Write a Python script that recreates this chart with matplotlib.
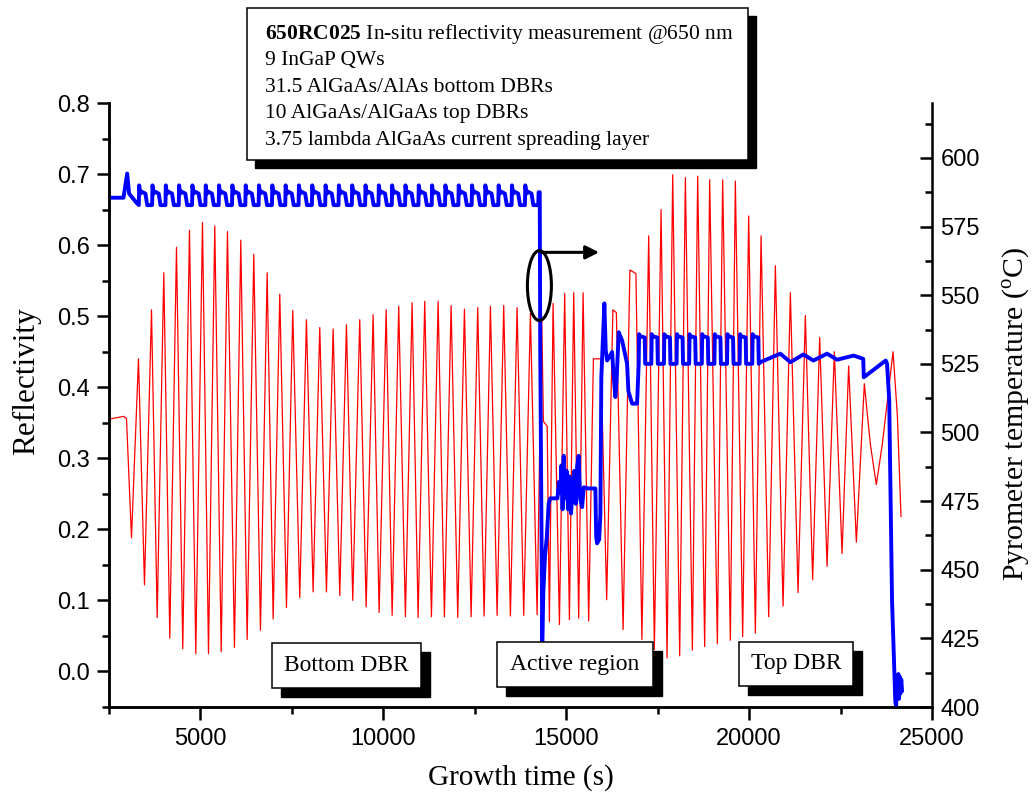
import matplotlib
matplotlib.use("Agg")
from matplotlib import pyplot as plt
from matplotlib.patches import Rectangle, Ellipse
from matplotlib.ticker import MultipleLocator

plt.rcParams["font.family"] = "Liberation Serif"
plt.rcParams["mathtext.fontset"] = "custom"
plt.rcParams["mathtext.rm"] = "Liberation Serif"
plt.rcParams["mathtext.bf"] = "Liberation Serif:bold"

# in-situ reflectivity at 650 nm, turning points of the trace
refl_t = [2500, 2700, 2900, 2978, 3115, 3306, 3470, 3662, 3817, 3998, 4162, 4345, 4517, 4700,
          4873, 5056, 5220, 5392, 5567, 5739, 5930, 6103, 6277, 6458, 6641, 6824, 6988, 7169,
          7352, 7524, 7715, 7898, 8081, 8262, 8445, 8628, 8809, 8992, 9164, 9355, 9530, 9721,
          9885, 10077, 10241, 10421, 10604, 10787, 10951, 11132, 11315, 11498, 11670, 11853,
          12034, 12217, 12400, 12580, 12755, 12928, 13111, 13291, 13474, 13657, 13838, 14021,
          14204, 14330, 14376, 14480, 14540, 14641, 14814, 14958, 15087, 15205, 15341, 15461,
          15614, 15743, 15948, 16106, 16276, 16371, 16555, 16741, 16905, 17069, 17255, 17410,
          17593, 17757, 17911, 18102, 18258, 18449, 18594, 18785, 18922, 19132, 19277, 19487,
          19624, 19824, 19988, 20171, 20327, 20535, 20718, 20928, 21128, 21338, 21538, 21737,
          21929, 22131, 22330, 22541, 22721, 22932, 23150, 23314, 23478, 23642, 23935, 24053,
          24153]
refl_r = [0.355, 0.357, 0.359, 0.356, 0.188, 0.440, 0.122, 0.509, 0.076, 0.561, 0.047, 0.597,
          0.032, 0.621, 0.025, 0.632, 0.025, 0.627, 0.028, 0.619, 0.034, 0.607, 0.045, 0.587,
          0.058, 0.561, 0.074, 0.531, 0.090, 0.508, 0.104, 0.495, 0.112, 0.484, 0.112, 0.482,
          0.107, 0.488, 0.100, 0.495, 0.091, 0.502, 0.083, 0.509, 0.079, 0.514, 0.077, 0.519,
          0.076, 0.521, 0.077, 0.521, 0.077, 0.515, 0.076, 0.510, 0.077, 0.512, 0.078, 0.514,
          0.079, 0.515, 0.078, 0.512, 0.079, 0.504, 0.080, 0.500, 0.352, 0.345, 0.070, 0.518,
          0.066, 0.532, 0.073, 0.533, 0.075, 0.533, 0.071, 0.440, 0.440, 0.101, 0.509, 0.505,
          0.059, 0.565, 0.560, 0.045, 0.613, 0.031, 0.650, 0.019, 0.699, 0.022, 0.695, 0.030,
          0.697, 0.035, 0.692, 0.039, 0.692, 0.044, 0.690, 0.049, 0.641, 0.054, 0.613, 0.077,
          0.571, 0.092, 0.533, 0.111, 0.501, 0.129, 0.470, 0.148, 0.450, 0.166, 0.430, 0.182,
          0.405, 0.320, 0.263, 0.320, 0.450, 0.360, 0.218]

# pyrometer temperature: bottom DBR (one step per AlGaAs/AlAs pair)
start_t = [2500, 2896, 2997, 3050, 3230]
start_T = [585.5, 585.5, 594.3, 587.0, 584.0]
bot_rise = [3315, 3679, 4043, 4407, 4771, 5135, 5499, 5863, 6227, 6591, 6955, 7319, 7683,
            8047, 8411, 8775, 9139, 9503, 9867, 10231, 10595, 10959, 11323, 11687, 12051,
            12415, 12779, 13143, 13507, 13871]
bot_high, bot_mid, bot_low = 590.0, 587.0, 582.8

# active region (QWs + current spreading layer)
act_t = [14235, 14245, 14276, 14290, 14320, 14345, 14375, 14420, 14470, 14520, 14560, 14760,
         14800, 14840, 14870, 14900, 14931, 14970, 15010, 15050, 15090, 15130, 15170, 15220,
         15260, 15300, 15341, 15380, 15434, 15480, 15606, 15797, 15820, 15844, 15900, 15934,
         15960, 16043, 16080, 16117, 16200, 16254, 16290, 16344, 16380, 16435, 16528, 16664,
         16700, 16801, 16937]
act_T = [582.8, 587.5, 587.5, 530.0, 470.0, 424.0, 442.0, 455.0, 462.0, 474.0, 476.0, 476.0,
         482.0, 478.0, 488.0, 472.0, 491.5, 476.0, 486.0, 472.0, 484.0, 470.5, 478.0, 486.0,
         474.0, 488.0, 491.5, 476.0, 472.8, 480.0, 479.6, 479.6, 462.0, 459.6, 461.0, 470.0,
         520.0, 547.0, 530.0, 526.2, 528.0, 529.3, 522.0, 512.9, 520.0, 536.5, 533.5, 525.0,
         515.0, 510.5, 510.5]

# top DBR (10 AlGaAs/AlGaAs pairs)
top_rise = [16981, 17326, 17671, 18016, 18361, 18706, 19051, 19396, 19741, 20086]
top_high, top_low = 535.0, 525.0

# end of growth and cool-down
tail_t = [20307, 20853, 21128, 21483, 21757, 22131, 22404, 22858, 23120, 23135, 23735, 23771,
          23830, 23907, 23997, 24020, 24040, 24060, 24080, 24100, 24120, 24140, 24160, 24181]
tail_T = [525.6, 528.7, 525.6, 528.4, 526.2, 528.7, 526.5, 528.0, 526.8, 520.1, 526.2, 525.0,
          512.0, 439.0, 402.0, 400.0, 410.0, 404.0, 412.0, 403.0, 411.0, 405.0, 410.0, 406.0]

# assemble the temperature trace
temp_t = list(start_t)
temp_T = list(start_T)
for tr in bot_rise:
    temp_t += [tr, tr + 10, tr + 40, tr + 80, tr + 180, tr + 230]
    temp_T += [bot_low, bot_high, bot_mid, bot_mid + 0.7, bot_mid, bot_low]
temp_t += act_t
temp_T += act_T
for tr in top_rise:
    temp_t += [tr, tr + 12, tr + 40, tr + 165, tr + 178]
    temp_T += [top_low, top_high + 0.8, top_high, top_high - 0.4, top_low]
temp_t += tail_t
temp_T += tail_T

W, H = 1036, 800
fig = plt.figure(figsize=(W / 100, H / 100), dpi=100)
ax = fig.add_axes([109 / W, 1 - 707 / H, (932 - 109) / W, (707 - 103) / H])
ax2 = ax.twinx()

ax.plot(refl_t, refl_r, color="#ff0000", lw=0.9)
ax2.plot(temp_t, temp_T, color="#0000ff", lw=2.8, solid_joinstyle="round")

ax.set_xlim(2500, 25000)
ax.set_ylim(-0.05, 0.8)
ax2.set_ylim(400, 620)
ax.set_xticks([5000, 10000, 15000, 20000, 25000])
ax.xaxis.set_minor_locator(MultipleLocator(2500))
ax.set_yticks([0.0, 0.1, 0.2, 0.3, 0.4, 0.5, 0.6, 0.7, 0.8])
ax.set_yticklabels(["0.0", "0.1", "0.2", "0.3", "0.4", "0.5", "0.6", "0.7", "0.8"])
ax.yaxis.set_minor_locator(MultipleLocator(0.05))
ax2.set_yticks([400, 425, 450, 475, 500, 525, 550, 575, 600])
ax2.yaxis.set_minor_locator(MultipleLocator(12.5))

for a in (ax, ax2):
    a.spines["top"].set_visible(False)
    for s in a.spines.values():
        s.set_linewidth(1.8)
ax.spines["right"].set_visible(False)
ax.tick_params(which="major", direction="out", length=9, width=1.8, pad=5,
               labelsize=17, labelfontfamily="Liberation Sans")
ax.tick_params(which="minor", direction="out", length=5, width=1.8)
ax.tick_params(axis="x", which="major", pad=6)
ax2.tick_params(which="major", direction="in", length=8.5, width=1.8, pad=6,
                labelsize=17, labelfontfamily="Liberation Sans")
ax2.tick_params(which="minor", direction="in", length=5, width=1.8)

ax.set_xlabel("Growth time (s)", fontsize=21, labelpad=10)
ax.set_ylabel("Reflectivity", fontsize=22.5, labelpad=10)
ax.yaxis.set_label_coords(-0.082, 0.54)
ax2.set_ylabel(r"Pyrometer temperature ($^\mathrm{o}$C)", fontsize=21.5, labelpad=10)
ax2.yaxis.set_label_coords(1.083, 0.485)

# marker around the temperature drop and arrow pointing to the right-hand axis
ax2.add_patch(Ellipse((14267, 553.5), 656, 25.5, fill=False, ec="black", lw=2.2, zorder=5))
ax2.annotate("", xy=(15900, 565.6), xytext=(14320, 565.6),
             arrowprops=dict(arrowstyle="-|>", color="black", lw=2.2, mutation_scale=20,
                             shrinkA=0, shrinkB=0), zorder=5)


def shadow_box(x0, y0, x1, y1, off=9):
    # white box with a solid black drop shadow, pixel coordinates from top-left
    fig.add_artist(Rectangle(((x0 + off) / W, 1 - (y1 + off) / H), (x1 - x0) / W, (y1 - y0) / H,
                             transform=fig.transFigure, fc="black", ec="black", zorder=10))
    fig.add_artist(Rectangle((x0 / W, 1 - y1 / H), (x1 - x0) / W, (y1 - y0) / H,
                             transform=fig.transFigure, fc="white", ec="black", lw=1.1, zorder=11))


shadow_box(247, 8, 748, 160, off=8)
info = [r"$\mathbf{650RC025}$ In-situ reflectivity measurement @650 nm",
        "9 InGaP QWs",
        "31.5 AlGaAs/AlAs bottom DBRs",
        "10 AlGaAs/AlGaAs top DBRs",
        "3.75 lambda AlGaAs current spreading layer"]
for i, line in enumerate(info):
    fig.text(265 / W, 1 - (38.5 + 26.6 * i) / H, line, fontsize=15.5, va="baseline",
             ha="left", zorder=12)

for label, (x0, y0, x1, y1) in [("Bottom DBR", (272, 643, 421, 688)),
                                ("Active region", (497, 642, 653, 687)),
                                ("Top DBR", (739, 642, 853, 686))]:
    shadow_box(x0, y0, x1, y1, off=9)
    fig.text((x0 + x1) / 2 / W, 1 - (y0 + y1) / 2 / H, label, fontsize=17, ha="center",
             va="center", zorder=12)

fig.savefig("out.png", dpi=100)
